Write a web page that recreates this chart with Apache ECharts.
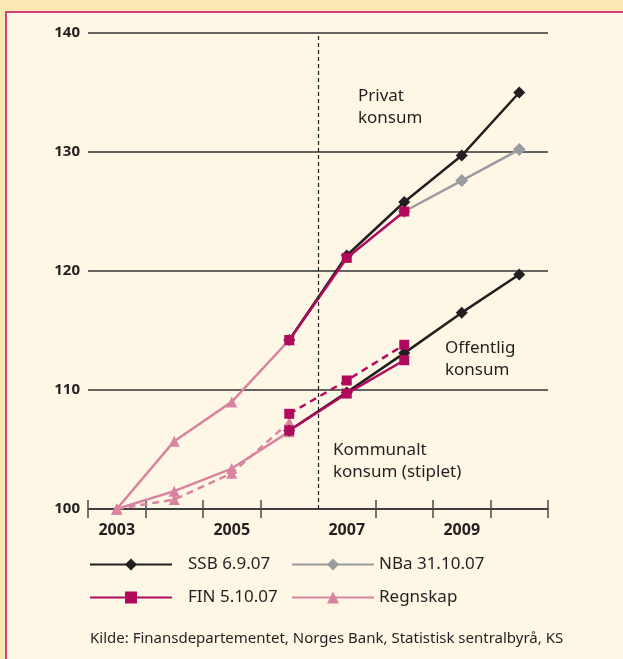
<!DOCTYPE html>
<html>
<head>
<meta charset="utf-8">
<script src="https://cdn.jsdelivr.net/npm/echarts@6/dist/echarts.min.js"></script>
<style>
  html, body { margin: 0; padding: 0; background: #fde9b4; }
  #chart { width: 623px; height: 659px; }
</style>
</head>
<body>
<div id="chart"></div>
<script>
  // år (kategorier) og y-akse
  const years = ['2003', '2004', '2005', '2006', '2007', '2008', '2009', '2010'];
  const yTicks = [100, 110, 120, 130, 140];

  // privat konsum
  const ssbPrivat = [null, null, null, 114.2, 121.3, 125.8, 129.7, 135.0];
  const nbaPrivat = [null, null, null, null, null, 125.0, 127.6, 130.2];
  const finPrivat = [null, null, null, 114.2, 121.1, 125.0, null, null];
  const regnPrivat = [100, 105.7, 109.0, 114.2, null, null, null, null];

  // offentlig konsum
  const ssbOffentlig = [null, null, null, 106.6, 109.8, 113.1, 116.5, 119.7];
  const finOffentlig = [null, null, null, 106.6, 109.7, 112.5, null, null];
  const regnOffentlig = [100, 101.5, 103.4, 106.5, null, null, null, null];

  // kommunalt konsum (stiplet)
  const finKommunalt = [null, null, null, 108.0, 110.8, 113.8, null, null];
  const regnKommunalt = [100, 100.8, 103.0, 107.3, null, null, null, null];

  const tickYears = [2003, 2004, 2005, 2006, 2008, 2009, 2010, 2011];
  const prognoseStart = 2007;

  const black = '#231f20';
  const grey = '#9a9b9e';
  const magenta = '#b10a5d';
  const pink = '#d9849f';
  const font = 'Noto Sans';

  function line(name, data, color, symbol, size, dashed) {
    return {
      name,
      type: 'line',
      data,
      symbol,
      symbolSize: size,
      itemStyle: { color },
      lineStyle: { color, width: 2.5, type: dashed ? [7, 5] : 'solid' },
      connectNulls: false,
      emphasis: { disabled: true },
      z: 3,
    };
  }

  const tickAxis = (inside) => ({
    type: 'value',
    position: 'bottom',
    min: 2003,
    max: 2011,
    interval: 1,
    axisLine: { show: false },
    axisLabel: { show: false },
    splitLine: { show: false },
    axisTick: {
      show: true,
      inside,
      length: 9,
      customValues: tickYears,
      lineStyle: { color: '#4a4a4a', width: 1.5 },
    },
  });

  const legendItem = (name, left, top, textPad) => ({
    left, top,
    padding: 0,
    itemWidth: 82, itemHeight: 15,
    data: [name],
    textStyle: { fontSize: 17, color: black, padding: [0, 0, 0, textPad] },
  });

  const myChart = echarts.init(document.getElementById('chart'));
  myChart.setOption({
    backgroundColor: '#fde9b4',
    animation: false,
    textStyle: { fontFamily: font },
    grid: { left: 88, right: 75, top: 33, bottom: 150 },
    graphic: [
      {
        type: 'rect',
        z: -10,
        shape: { x: 6, y: 12, width: 700, height: 700 },
        style: { fill: '#fef7e6', stroke: '#d2437c', lineWidth: 2 },
        silent: true,
      },
      {
        type: 'text', left: 358, top: 85,
        style: { text: 'Privat\nkonsum', font: '17px "Noto Sans"', fill: black, lineHeight: 22 },
      },
      {
        type: 'text', left: 445, top: 337,
        style: { text: 'Offentlig\nkonsum', font: '17px "Noto Sans"', fill: black, lineHeight: 22 },
      },
      {
        type: 'text', left: 333, top: 439,
        style: { text: 'Kommunalt\nkonsum (stiplet)', font: '17px "Noto Sans"', fill: black, lineHeight: 22 },
      },
      {
        type: 'text', left: 90, top: 631,
        style: { text: 'Kilde: Finansdepartementet, Norges Bank, Statistisk sentralbyrå, KS', font: '15px "Noto Sans"', fill: black },
      },
    ],
    legend: [
      legendItem('SSB 6.9.07', 89, 556, 11),
      legendItem('NBa 31.10.07', 291, 556, 0),
      legendItem('FIN 5.10.07', 89, 589, 11),
      legendItem('Regnskap', 291, 589, 0),
    ],
    xAxis: [
      {
        type: 'category',
        data: years,
        boundaryGap: true,
        position: 'bottom',
        axisLine: { show: true, lineStyle: { color: '#333', width: 1.5 } },
        axisTick: { show: false },
        axisLabel: { interval: 1, margin: 13, fontSize: 16, fontWeight: 'bold', color: black },
        splitLine: { show: false },
      },
      tickAxis(false),
      tickAxis(true),
    ],
    yAxis: {
      type: 'value',
      min: yTicks[0],
      max: yTicks[yTicks.length - 1],
      interval: 10,
      axisLine: { show: false },
      axisTick: { show: false },
      axisLabel: { margin: 8, fontSize: 15, fontWeight: 'bold', color: black },
      splitLine: { lineStyle: { color: '#333', width: 1.5 } },
    },
    series: [
      // stiplet linje ved 2007
      {
        type: 'line',
        xAxisIndex: 1,
        data: [[prognoseStart, 100]],
        showSymbol: false,
        lineStyle: { opacity: 0 },
        silent: true,
        markLine: {
          silent: true,
          symbol: 'none',
          label: { show: false },
          lineStyle: { color: black, width: 1.2, type: [4, 3] },
          data: [{ xAxis: prognoseStart }],
        },
      },
      line('Regnskap', regnPrivat, pink, 'triangle', 11),
      line('Regnskap', regnOffentlig, pink, 'triangle', 11),
      line('Regnskap', regnKommunalt, pink, 'triangle', 11, true),
      line('NBa 31.10.07', nbaPrivat, grey, 'diamond', 13),
      line('SSB 6.9.07', ssbPrivat, black, 'diamond', 12),
      line('SSB 6.9.07', ssbOffentlig, black, 'diamond', 12),
      line('FIN 5.10.07', finPrivat, magenta, 'rect', 10),
      line('FIN 5.10.07', finOffentlig, magenta, 'rect', 10),
      line('FIN 5.10.07', finKommunalt, magenta, 'rect', 10, true),
    ],
  });
</script>
</body>
</html>
